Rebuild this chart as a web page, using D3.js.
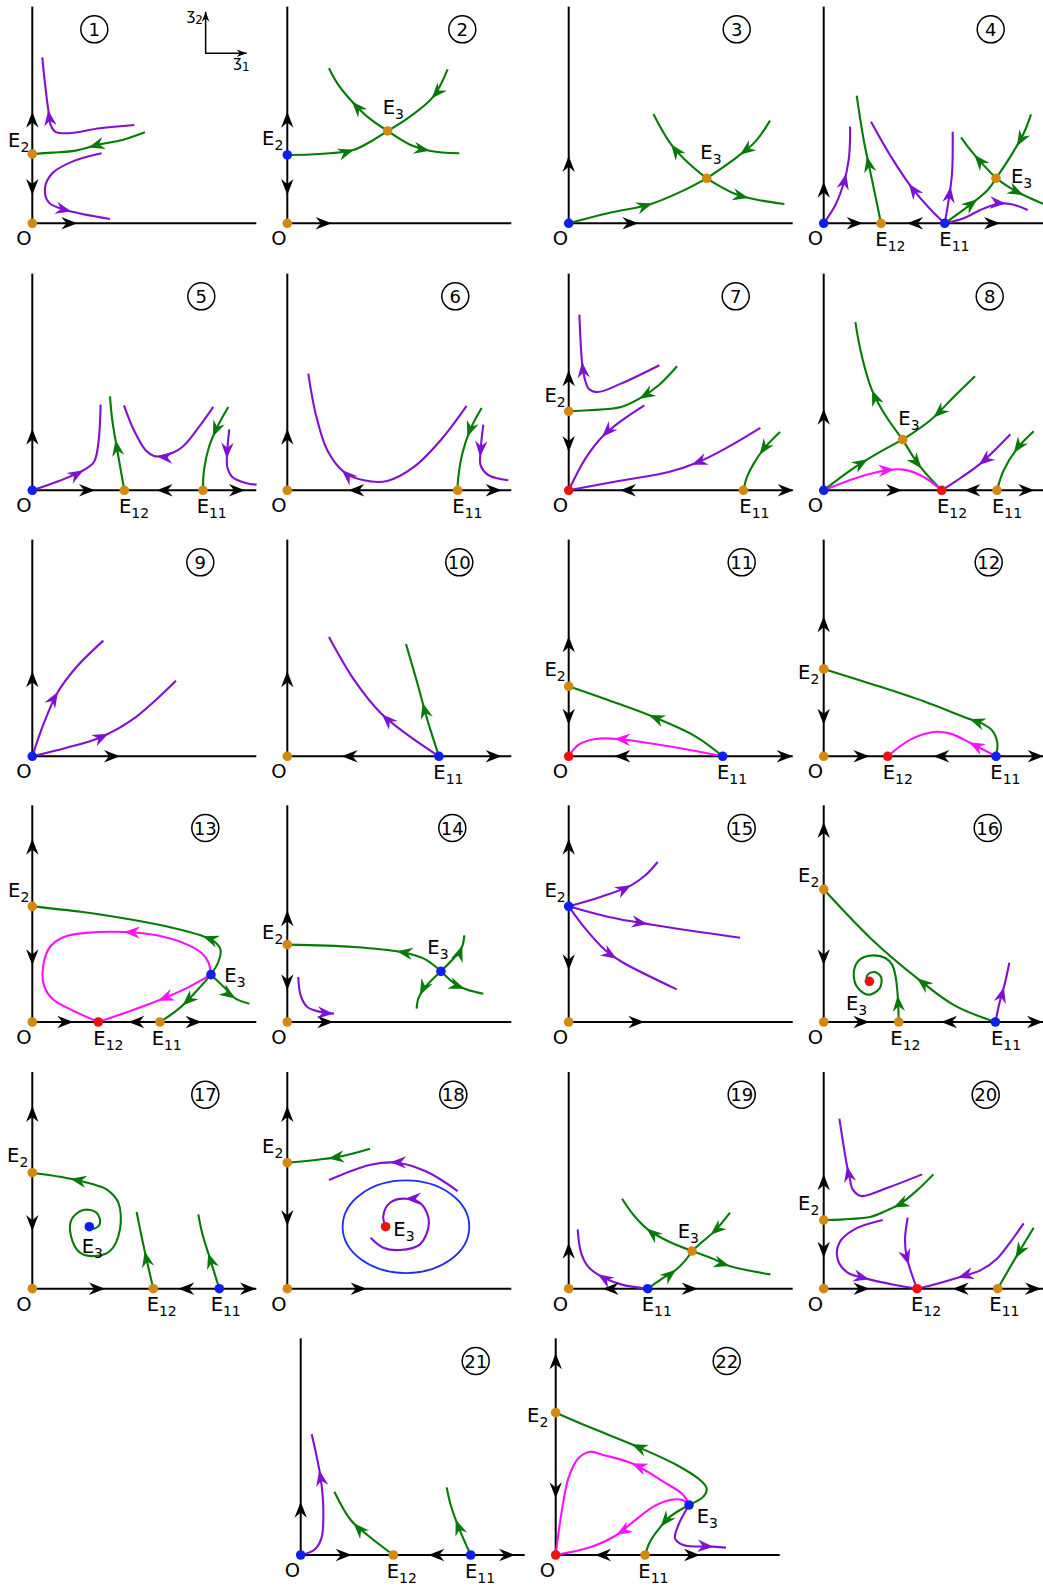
<!DOCTYPE html>
<html lang="en">
<head>
  <meta charset="UTF-8">
  <title>Phase portraits</title>
  <style>
    body { margin: 0; background: #fff; }
    svg { display: block; font-family: 'DejaVu Sans', sans-serif; }
  </style>
</head>
<body>
  <svg id="svg" width="1043" height="1591"></svg>
  <script src="https://d3js.org/d3.v7.min.js"></script>
  <script>
    // all values are in "panel units": origin at O, x right, y up
    // panel n is numbered as in the circled tags

    // equilibria: [panel, name, x, y, kind]   kind: s saddle, u source, a sink
    const equilibria = [
      [1,'O',0,0,'s'],[1,'E2',0,208,'s'],
      [2,'O',0,0,'s'],[2,'E2',0,205,'u'],[2,'E3',301,277,'s'],
      [3,'O',0,0,'u'],[3,'E3',414,135,'s'],
      [4,'O',0,0,'u'],[4,'E12',172,0,'s'],[4,'E11',363,0,'u'],[4,'E3',517,135,'s'],
      [5,'O',0,0,'u'],[5,'E12',276,0,'s'],[5,'E11',512,0,'s'],
      [6,'O',0,0,'s'],[6,'E11',511,0,'s'],
      [7,'O',0,0,'a'],[7,'E2',0,237,'s'],[7,'E11',524,0,'s'],
      [8,'O',0,0,'u'],[8,'E12',354,0,'a'],[8,'E11',520,0,'s'],[8,'E3',237,152,'s'],
      [9,'O',0,0,'u'],
      [10,'O',0,0,'s'],[10,'E11',455,0,'u'],
      [11,'O',0,0,'a'],[11,'E2',0,210,'s'],[11,'E11',462,0,'u'],
      [12,'O',0,0,'s'],[12,'E2',0,262,'s'],[12,'E12',192,0,'a'],[12,'E11',517,0,'u'],
      [13,'O',0,0,'s'],[13,'E2',0,347,'s'],[13,'E12',198,0,'a'],[13,'E11',383,0,'s'],[13,'E3',536,142,'u'],
      [14,'O',0,0,'s'],[14,'E2',0,232,'s'],[14,'E3',461,152,'u'],
      [15,'O',0,0,'s'],[15,'E2',0,347,'u'],
      [16,'O',0,0,'s'],[16,'E2',0,398,'s'],[16,'E12',225,0,'s'],[16,'E11',515,0,'u'],[16,'E3',137,122,'a'],
      [17,'O',0,0,'s'],[17,'E2',0,348,'s'],[17,'E12',363,0,'s'],[17,'E11',561,0,'u'],[17,'E3',171,186,'u'],
      [18,'O',0,0,'s'],[18,'E2',0,378,'s'],[18,'E3',295,186,'a'],
      [19,'O',0,0,'s'],[19,'E11',237,0,'u'],[19,'E3',370,113,'s'],
      [20,'O',0,0,'s'],[20,'E2',0,206,'s'],[20,'E12',280,0,'a'],[20,'E11',522,0,'s'],
      [21,'O',0,0,'u'],[21,'E12',278,0,'s'],[21,'E11',510,0,'u'],
      [22,'O',0,0,'a'],[22,'E2',0,427,'s'],[22,'E11',268,0,'s'],[22,'E3',400,150,'u']
    ]

    // labels of the E points: [panel, subscript, x, y, anchor]
    const eqLabels = [
      [1,'2',-9,230,'end'],
      [2,'2',-12,235,'end'],[2,'3',286,327,'start'],
      [3,'3',395,192,'start'],
      [4,'12',155,-68,'start'],[4,'11',347,-68,'start'],[4,'3',562,120,'start'],
      [5,'12',260,-68,'start'],[5,'11',493,-68,'start'],
      [6,'11',495,-68,'start'],
      [7,'2',-9,265,'end'],[7,'11',512,-68,'start'],
      [8,'3',224,197,'start'],[8,'12',340,-68,'start'],[8,'11',505,-68,'start'],
      [10,'11',438,-68,'start'],
      [11,'2',-9,240,'end'],[11,'11',445,-68,'start'],
      [12,'2',-13,233,'end'],[12,'12',177,-68,'start'],[12,'11',500,-68,'start'],
      [13,'2',-9,375,'end'],[13,'3',576,120,'start'],[13,'12',183,-68,'start'],[13,'11',358,-68,'start'],
      [14,'2',-12,250,'end'],[14,'3',420,205,'start'],
      [15,'2',-9,375,'end'],
      [16,'2',-13,420,'end'],[16,'3',67,35,'start'],[16,'12',200,-68,'start'],[16,'11',502,-68,'start'],
      [17,'2',-12,380,'end'],[17,'3',148,108,'start'],[17,'12',343,-68,'start'],[17,'11',535,-68,'start'],
      [18,'2',-12,408,'end'],[18,'3',318,158,'start'],
      [19,'3',327,153,'start'],[19,'11',219,-68,'start'],
      [20,'2',-13,236,'end'],[20,'12',262,-68,'start'],[20,'11',497,-68,'start'],
      [21,'12',258,-68,'start'],[21,'11',493,-68,'start'],
      [22,'2',-22,400,'end'],[22,'3',423,95,'start'],[22,'11',248,-68,'start']
    ]

    // arrows on the axes: [panel, axis, tip position, direction]
    const axisArrows = [
      [1,'x',135,1],[1,'y',335,1],[1,'y',85,-1],
      [2,'x',133,1],[2,'y',335,1],[2,'y',85,-1],
      [3,'x',209,1],[3,'y',202,1],
      [4,'x',117,1],[4,'x',250,-1],[4,'x',529,1],[4,'y',125,1],
      [5,'x',188,1],[5,'x',373,-1],[5,'x',638,1],[5,'y',185,1],
      [6,'x',183,-1],[6,'x',643,1],[6,'y',185,1],
      [7,'x',154,-1],[7,'x',675,1],[7,'y',360,1],[7,'y',115,-1],
      [8,'x',235,1],[8,'x',422,-1],[8,'x',632,1],[8,'y',245,1],
      [9,'x',263,1],[9,'y',255,1],
      [10,'x',163,-1],[10,'x',643,1],[10,'y',255,1],
      [11,'x',137,-1],[11,'x',672,1],[11,'y',360,1],[11,'y',95,-1],
      [12,'x',137,1],[12,'x',329,-1],[12,'x',660,1],[12,'y',420,1],[12,'y',95,-1],
      [13,'x',123,1],[13,'x',288,-1],[13,'x',508,1],[13,'y',550,1],[13,'y',170,-1],
      [14,'x',138,1],[14,'y',335,1],[14,'y',95,-1],
      [15,'x',227,1],[15,'y',550,1],[15,'y',155,-1],
      [16,'x',137,1],[16,'x',352,-1],[16,'x',658,1],[16,'y',600,1],[16,'y',170,-1],
      [17,'x',218,1],[17,'x',438,-1],[17,'x',671,1],[17,'y',548,1],[17,'y',173,-1],
      [18,'x',238,1],[18,'y',548,1],[18,'y',188,-1],
      [19,'x',102,-1],[19,'x',387,1],[19,'y',138,1],
      [20,'x',137,1],[20,'x',387,-1],[20,'x',652,1],[20,'y',343,1],[20,'y',93,-1],
      [21,'x',153,1],[21,'x',383,-1],[21,'x',643,1],[21,'y',160,1],
      [22,'x',118,-1],[22,'x',433,1],[22,'y',605,1],[22,'y',170,-1]
    ]

    // orbits in flow order: [panel, colour key, points, arrow tips]
    const trajectories = [
      [1,'p',[[306,295],[203,285],[103,270],[68,275],[55,295],[48,340],[38,420],[30,498]],[[48,340]]],
      [1,'g',[[338,273],[270,250],[203,237],[130,218],[60,212],[0,208]],[[168,232]]],
      [1,'p',[[208,210],[120,185],[60,150],[38,105],[50,62],[100,40],[233,13]],[[118,38]]],

      [2,'g',[[0,205],[98,208],[198,220],[258,250],[301,277]],[[200,218]]],
      [2,'g',[[481,462],[438,380],[368,320],[301,277]],[[436,372]]],
      [2,'g',[[301,277],[240,320],[190,370],[150,420],[125,465]],[[193,365]]],
      [2,'g',[[301,277],[370,235],[430,217],[516,210]],[[428,218]]],

      [3,'g',[[0,0],[117,30],[247,58],[337,95],[414,135]],[[252,58]]],
      [3,'g',[[604,308],[560,245],[500,195],[414,135]],[[512,208]]],
      [3,'g',[[414,135],[360,180],[305,240],[254,328]],[[307,238]]],
      [3,'g',[[414,135],[500,88],[580,68],[647,58]],[[540,80]]],

      [4,'p',[[0,0],[35,55],[60,120],[75,190],[79,250],[79,290]],[[64,150]]],
      [4,'g',[[172,0],[145,130],[120,250],[99,383]],[[122,200]]],
      [4,'p',[[363,0],[322,40],[262,110],[202,200],[142,305]],[[257,120]]],
      [4,'p',[[363,0],[375,70],[385,150],[387,275]],[[382,110]]],
      [4,'g',[[363,0],[432,50],[492,100],[517,135]],[[462,70]]],
      [4,'g',[[622,327],[600,270],[560,200],[517,135]],[[582,230]]],
      [4,'g',[[517,135],[470,185],[440,220],[412,258]],[[445,200]]],
      [4,'g',[[517,135],[570,100],[620,75],[680,50]],[[597,80]]],
      [4,'p',[[363,0],[420,15],[470,40],[520,58],[560,58],[612,40]],[[547,58]]],

      [5,'p',[[0,0],[80,28],[150,58],[185,85],[198,140],[205,257]],[[153,60]]],
      [5,'g',[[276,0],[255,120],[240,210],[233,282]],[[248,150]]],
      [5,'p',[[543,250],[500,190],[450,130],[400,105],[365,103],[340,120],[305,180],[275,255]],[[373,103]]],
      [5,'g',[[588,250],[555,190],[530,130],[515,60],[512,0]],[[543,160]]],
      [5,'p',[[591,183],[585,120],[585,70],[600,40],[640,22],[673,17]],[[583,95]]],

      [6,'p',[[538,253],[460,150],[380,70],[300,28],[230,30],[170,55],[120,120],[85,230],[63,350]],[[163,60]]],
      [6,'g',[[583,247],[550,185],[525,110],[512,30],[511,0]],[[538,160]]],
      [6,'p',[[588,197],[580,120],[580,75],[600,48],[630,36],[663,30]],[[578,100]]],

      [7,'p',[[272,375],[157,320],[87,295],[60,305],[48,335],[40,385],[32,527]],[[40,385]]],
      [7,'g',[[325,372],[270,315],[212,275],[157,250],[60,240],[0,237]],[[212,275]]],
      [7,'p',[[227,255],[160,210],[100,160],[50,95],[0,0]],[[97,162]]],
      [7,'p',[[575,187],[470,125],[390,85],[300,55],[150,28],[0,0]],[[367,80]]],
      [7,'g',[[634,175],[590,130],[555,80],[535,40],[524,0]],[[575,105]]],

      [8,'g',[[0,0],[80,60],[160,110],[237,152]],[[132,95]]],
      [8,'g',[[454,342],[390,280],[320,210],[237,152]],[[332,215]]],
      [8,'g',[[237,152],[185,225],[145,300],[115,400],[95,505]],[[142,300]]],
      [8,'g',[[237,152],[290,70],[354,0]],[[292,65]]],
      [8,'m',[[0,0],[100,38],[190,60],[240,62],[300,40],[354,0]],[[212,63]]],
      [8,'p',[[560,168],[470,80],[400,30],[354,0]],[[467,75]]],
      [8,'g',[[630,177],[580,125],[540,60],[520,0]],[[572,110]]],

      [9,'p',[[0,0],[35,100],[75,190],[130,265],[213,347]],[[73,195]]],
      [9,'p',[[0,0],[100,25],[200,55],[300,110],[431,227]],[[228,67]]],

      [10,'p',[[455,0],[360,65],[280,130],[200,230],[125,358]],[[283,125]]],
      [10,'g',[[455,0],[420,110],[390,220],[356,337]],[[403,160]]],

      [11,'g',[[462,0],[380,60],[242,123],[120,168],[0,210]],[[242,125]]],
      [11,'m',[[462,0],[300,30],[150,52],[80,52],[30,35],[0,0]],[[137,55]]],

      [12,'g',[[517,0],[521,40],[505,78],[472,100],[437,112],[300,165],[150,215],[0,262]],[[437,112]]],
      [12,'m',[[517,0],[440,40],[380,68],[330,73],[260,50],[192,0]],[[432,35]]],

      [13,'g',[[536,142],[558,180],[565,215],[548,240],[505,260],[420,283],[300,307],[150,330],[0,347]],[[511,255]]],
      [13,'g',[[536,142],[490,90],[440,40],[383,0]],[[455,45]]],
      [13,'g',[[536,142],[580,100],[610,70],[651,55]],[[608,70]]],
      [13,'m',[[536,142],[528,180],[510,205],[470,230],[373,260],[278,270],[170,268],[95,255],[53,225],[33,170],[35,110],[60,70],[110,40],[198,0]],[[275,267]]],
      [13,'m',[[536,142],[460,100],[380,65],[300,35],[198,0]],[[378,62]]],

      [14,'g',[[461,152],[410,190],[340,210],[200,225],[0,232]],[[328,212]]],
      [14,'g',[[461,152],[505,198],[525,228],[531,260]],[[528,228]]],
      [14,'g',[[461,152],[410,100],[393,70],[388,40]],[[390,85]]],
      [14,'g',[[461,152],[505,113],[540,97],[588,85]],[[533,105]]],
      [14,'p',[[33,135],[40,80],[60,45],[100,30],[140,25]],[[140,25]]],

      [15,'p',[[0,347],[95,375],[187,410],[230,440],[267,480]],[[187,410]]],
      [15,'p',[[0,347],[120,315],[250,292],[514,253]],[[237,295]]],
      [15,'p',[[0,347],[50,280],[110,215],[160,180],[324,98]],[[142,188]]],

      [16,'g',[[515,0],[392,50],[282,130],[142,250],[0,398]],[[280,132]]],
      [16,'g',[[225,0],[222,80],[215,140],[205,172],[185,192],[152,200],[112,190],[92,160],[97,110],[132,82],[167,100],[172,135],[152,150],[132,142],[128,128]],[[222,80]]],
      [16,'p',[[515,0],[528,60],[542,110],[557,178]],[[540,105]]],

      [17,'g',[[171,186],[185,180],[203,195],[193,228],[153,236],[118,208],[116,158],[143,108],[188,98],[233,113],[263,178],[258,258],[223,298],[183,313],[115,330],[0,348]],[[115,330]]],
      [17,'g',[[363,0],[340,100],[325,170],[313,230]],[[336,113]]],
      [17,'g',[[561,0],[530,100],[510,165],[498,223]],[[528,108]]],

      [18,'g',[[248,420],[150,395],[0,378]],[[123,390]]],
      [18,'p',[[511,293],[420,350],[330,378],[250,372],[125,326]],[[308,376]]],
      [18,'p',[[250,153],[288,123],[338,116],[398,133],[425,198],[403,253],[358,270],[308,258],[288,218],[295,186]],[[353,270]]],

      [19,'p',[[237,0],[157,13],[87,43],[57,68],[37,108],[27,178]],[[87,43]]],
      [19,'g',[[237,0],[277,28],[322,57],[350,85],[370,113]],[[322,57]]],
      [19,'g',[[484,228],[440,175],[400,140],[370,113]],[[427,160]]],
      [19,'g',[[370,113],[297,143],[237,178],[197,218],[160,270]],[[232,180]]],
      [19,'g',[[370,113],[437,88],[482,68],[605,43]],[[482,68]]],

      [20,'p',[[295,343],[192,303],[112,278],[87,298],[77,338],[70,368],[47,510]],[[70,368]]],
      [20,'g',[[329,343],[280,295],[230,255],[190,235],[142,216],[60,208],[0,206]],[[212,240]]],
      [20,'p',[[177,206],[92,178],[47,138],[42,88],[72,48],[137,28],[210,12],[280,0]],[[137,30]]],
      [20,'p',[[252,213],[244,150],[248,100],[262,50],[280,0]],[[257,71]]],
      [20,'p',[[600,196],[560,140],[520,90],[470,55],[402,33],[340,15],[280,0]],[[402,33]]],
      [20,'g',[[630,183],[580,100],[522,0]],[[572,93]]],

      [21,'p',[[0,0],[40,15],[62,50],[68,130],[60,230],[33,362]],[[56,255]]],
      [21,'g',[[278,0],[200,60],[150,105],[101,190]],[[158,95]]],
      [21,'g',[[510,0],[475,80],[450,150],[438,203]],[[463,105]]],

      [22,'g',[[400,150],[443,175],[453,200],[433,225],[363,270],[228,332],[110,380],[0,427]],[[228,332]]],
      [22,'m',[[400,150],[383,180],[323,220],[228,275],[143,300],[103,310],[68,290],[38,230],[18,130],[5,40],[0,0]],[[228,275]]],
      [22,'m',[[400,150],[380,165],[343,165],[293,145],[233,100],[183,60],[103,23],[0,0]],[[183,60]]],
      [22,'g',[[400,150],[343,115],[315,85],[283,40],[268,0]],[[315,85]]],
      [22,'p',[[400,150],[368,90],[358,50],[383,30],[473,25],[511,22]],[[473,25]]]
    ]

    // closed orbit: [panel, cx, cy, rx, ry]
    const limitCycles = [[18, 356, 186, 190, 139]]

    // ---- layout ----
    const unitW = 672, unitH = 650   // axis lengths in panel units (3 units = 1 px)
    const colX = [32.3, 287.3, 568.7, 823.7]
    const rowY = [223.3, 490.3, 756.3, 1022, 1288.7, 1555]
    const tagDx = [62, 175, 168, 167, 169, 168, 167, 166, 168, 172, 173, 165, 173, 165, 173, 164, 173, 166, 173, 162, 175, 171]
    const panelIds = d3.range(1, 23)

    const colour = { g: '#067a06', p: '#8010d2', m: '#ff10ff' }
    const dotColour = { s: '#d5880e', u: '#0f1ff2', a: '#f20f0f' }

    function origin(p) {
      if (p <= 20) return [colX[(p - 1) % 4], rowY[Math.floor((p - 1) / 4)]]
      return p === 21 ? [300.7, 1555] : [555.7, 1555]
    }

    const scales = {}
    panelIds.forEach(p => {
      const [ox, oy] = origin(p)
      scales[p] = {
        x: d3.scaleLinear().domain([0, unitW]).range([ox, ox + unitW / 3]),
        y: d3.scaleLinear().domain([0, unitH]).range([oy, oy - unitH / 3])
      }
    })

    const svg = d3.select('#svg')
    const axisLayer = svg.append('g')
    const curveLayer = svg.append('g')
    const arrowLayer = svg.append('g')
    const dotLayer = svg.append('g')
    const textLayer = svg.append('g')

    function arrowHead(x, y, angle, fill, len = 16, half = 6.2) {
      arrowLayer.append('path')
        .attr('d', `M0,0 L${-len},${half} L${-len * 0.68},0 L${-len},${-half} Z`)
        .attr('transform', `translate(${x},${y}) rotate(${angle})`)
        .attr('fill', fill)
    }

    // axes
    panelIds.forEach(p => {
      const s = scales[p]
      axisLayer.append('line')
        .attr('x1', s.x(0)).attr('y1', s.y(0)).attr('x2', s.x(unitW)).attr('y2', s.y(0))
        .attr('stroke', '#000').attr('stroke-width', 2)
      axisLayer.append('line')
        .attr('x1', s.x(0)).attr('y1', s.y(0)).attr('x2', s.x(0)).attr('y2', s.y(unitH))
        .attr('stroke', '#000').attr('stroke-width', 2)
    })

    axisArrows.forEach(([p, axis, pos, dir]) => {
      const s = scales[p]
      if (axis === 'x') arrowHead(s.x(pos), s.y(0), dir > 0 ? 0 : 180, '#000')
      else arrowHead(s.x(0), s.y(pos), dir > 0 ? -90 : 90, '#000')
    })

    // orbits
    trajectories.forEach(([p, c, pts, tips]) => {
      const s = scales[p]
      const line = d3.line()
        .x(d => s.x(d[0])).y(d => s.y(d[1]))
        .curve(d3.curveCatmullRom.alpha(0.5))
      const path = curveLayer.append('path')
        .attr('d', line(pts))
        .attr('fill', 'none')
        .attr('stroke', colour[c])
        .attr('stroke-width', 2.1)
      const node = path.node()
      const total = node.getTotalLength()
      tips.forEach(t => {
        const tx = s.x(t[0]), ty = s.y(t[1])
        let best = 0, bestD = Infinity
        for (let l = 0; l <= total; l += 0.5) {
          const q = node.getPointAtLength(l)
          const d = (q.x - tx) ** 2 + (q.y - ty) ** 2
          if (d < bestD) { bestD = d; best = l }
        }
        const a = node.getPointAtLength(Math.max(0, best - 2))
        const b = node.getPointAtLength(Math.min(total, best + 2))
        const q = node.getPointAtLength(best)
        const ang = Math.atan2(b.y - a.y, b.x - a.x) * 180 / Math.PI
        arrowHead(q.x, q.y, ang, colour[c])
      })
    })

    limitCycles.forEach(([p, cx, cy, rx, ry]) => {
      const s = scales[p]
      curveLayer.append('ellipse')
        .attr('cx', s.x(cx)).attr('cy', s.y(cy))
        .attr('rx', s.x(rx) - s.x(0)).attr('ry', s.y(0) - s.y(ry))
        .attr('fill', 'none').attr('stroke', '#1a2ef2').attr('stroke-width', 1.8)
    })

    // equilibria
    equilibria.forEach(([p, name, x, y, kind]) => {
      const s = scales[p]
      dotLayer.append('circle')
        .attr('cx', s.x(x)).attr('cy', s.y(y)).attr('r', 4.8)
        .attr('fill', dotColour[kind])
    })

    function label(x, y, main, sub, anchor, size = 19.5, subSize = 14, shift = 5) {
      const t = textLayer.append('text')
        .attr('x', x).attr('y', y)
        .attr('text-anchor', anchor)
        .attr('font-size', size)
        .attr('fill', '#000')
      t.append('tspan').text(main)
      if (sub) t.append('tspan').attr('font-size', subSize).attr('dy', shift).text(sub)
    }

    panelIds.forEach(p => {
      const s = scales[p]
      label(s.x(-25), s.y(-66), 'O', null, 'middle')
    })
    eqLabels.forEach(([p, sub, x, y, anchor]) => {
      const s = scales[p]
      label(s.x(x), s.y(y), 'E', sub, anchor)
    })

    // circled panel numbers
    panelIds.forEach(p => {
      const [ox, oy] = origin(p)
      const cx = ox + tagDx[p - 1], cy = oy - 194
      textLayer.append('circle')
        .attr('cx', cx).attr('cy', cy).attr('r', 13.5)
        .attr('fill', 'none').attr('stroke', '#000').attr('stroke-width', 1.5)
      const t = textLayer.append('text')
        .attr('x', cx).attr('y', cy + 6.5)
        .attr('text-anchor', 'middle')
        .attr('font-size', 18)
        .text(p)
      if (p >= 10) t.attr('textLength', 23).attr('lengthAdjust', 'spacingAndGlyphs')
    })

    // coordinate hint in panel 1
    const s1 = scales[1]
    const corner = [520, 510]
    axisLayer.append('path')
      .attr('d', `M${s1.x(corner[0])},${s1.y(635)} L${s1.x(corner[0])},${s1.y(corner[1])} L${s1.x(643)},${s1.y(corner[1])}`)
      .attr('fill', 'none').attr('stroke', '#000').attr('stroke-width', 1.5)
    arrowHead(s1.x(corner[0]), s1.y(635), -90, '#000', 10, 3.8)
    arrowHead(s1.x(643), s1.y(corner[1]), 0, '#000', 10, 3.8)
    label(s1.x(512), s1.y(610), 'ʒ', '2', 'end', 15, 12, 4)
    label(s1.x(603), s1.y(469), 'ʒ', '1', 'start', 15, 12, 4)
  </script>
</body>
</html>
